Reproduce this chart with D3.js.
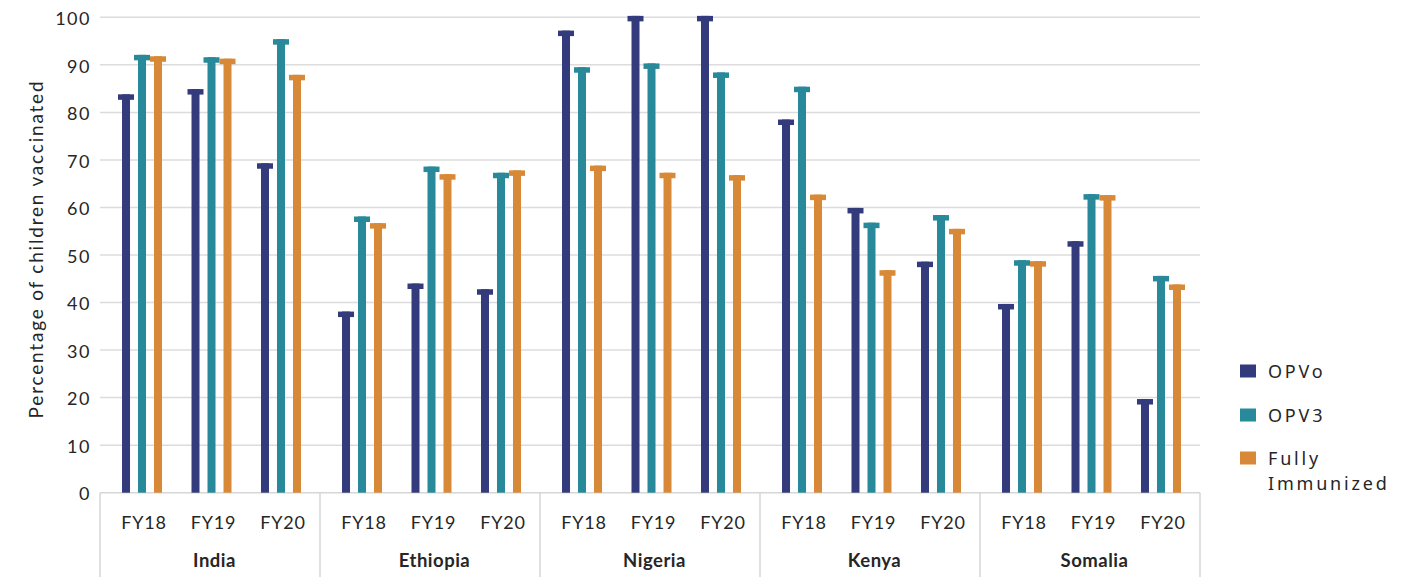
<!DOCTYPE html>
<html>
<head>
<meta charset="utf-8">
<script src="https://cdn.jsdelivr.net/npm/d3@7/dist/d3.min.js"></script>
<style>
  html, body { margin: 0; padding: 0; background: #ffffff; }
  svg { display: block; }
  text { font-family: Lato, "Open Sans", sans-serif; fill: #262626; }
</style>
</head>
<body>
<svg id="chart" width="1427" height="577"></svg>
<script>
const countries = ["India", "Ethiopia", "Nigeria", "Kenya", "Somalia"];
const years = ["FY18", "FY19", "FY20"];
const seriesNames = ["OPVo", "OPV3", "Fully Immunized"];
const seriesColors = ["#333b7c", "#27899a", "#d88937"];
const yTicks = [0, 10, 20, 30, 40, 50, 60, 70, 80, 90, 100];
const yTickLabels = ["0", "10", "20", "30", "40", "50", "60", "70", "80", "90", "100"];

// values per country, ordered FY18, FY19, FY20
const opv0 = {
  India:    [83.8, 84.9, 69.3],
  Ethiopia: [38.1, 44.0, 42.8],
  Nigeria:  [97.2, 100.3, 100.3],
  Kenya:    [78.5, 59.9, 48.6],
  Somalia:  [39.7, 52.9, 19.7]
};
const opv3 = {
  India:    [92.1, 91.6, 95.4],
  Ethiopia: [58.1, 68.6, 67.3],
  Nigeria:  [89.5, 90.3, 88.4],
  Kenya:    [85.4, 56.8, 58.4],
  Somalia:  [48.9, 62.8, 45.6]
};
const fullyImmunized = {
  India:    [91.8, 91.3, 87.9],
  Ethiopia: [56.7, 67.0, 67.8],
  Nigeria:  [68.8, 67.3, 66.8],
  Kenya:    [62.7, 46.8, 55.5],
  Somalia:  [48.7, 62.6, 43.8]
};
const seriesData = [opv0, opv3, fullyImmunized];

const svg = d3.select("#chart");
const plotLeft = 100, plotRight = 1200, plotTop = 17.3, plotBottom = 492.7;

const y = d3.scaleLinear().domain([0, 100]).range([plotBottom, plotTop]);
const xCountry = d3.scaleBand().domain(countries).range([plotLeft, plotRight]).padding(0);
const xYear = d3.scalePoint().domain(years).range([1.5, xCountry.bandwidth() + 1.5]).padding(0.583);
const xSeries = d3.scaleBand().domain(seriesNames).range([-24, 24]).padding(0);

// gridlines
const grid = svg.append("g");
grid.selectAll("line").data(yTicks.filter(d => d > 0)).join("line")
  .attr("x1", plotLeft).attr("x2", plotRight)
  .attr("y1", d => y(d)).attr("y2", d => y(d))
  .attr("stroke", "#dcdcdc").attr("stroke-width", 1.5);

// y axis labels
const yAxis = d3.axisLeft(y).tickValues(yTicks).tickSize(0).tickPadding(8)
  .tickFormat((d, i) => yTickLabels[i]);
const gy = svg.append("g").attr("transform", `translate(${plotLeft - 1},0)`).call(yAxis);
gy.select(".domain").remove();
gy.selectAll("text").style("font-size", "18px").style("font-family", "Lato, sans-serif")
  .attr("fill", "#262626").attr("letter-spacing", "1.5px").attr("dy", "0.4em");

// y title
svg.append("text")
  .attr("transform", `translate(43, ${(plotTop + plotBottom) / 2 - 6}) rotate(-90)`)
  .attr("text-anchor", "middle")
  .style("font-size", "19px")
  .attr("letter-spacing", "1.8px")
  .text("Percentage of children vaccinated");

// category axis box
const axisG = svg.append("g");
axisG.append("line").attr("x1", plotLeft).attr("x2", plotRight).attr("y1", plotBottom).attr("y2", plotBottom)
  .attr("stroke", "#d6d6d6").attr("stroke-width", 1.5);
const seps = countries.map(c => xCountry(c)).concat([plotRight]);
axisG.selectAll("line.sep").data(seps).join("line").attr("class", "sep")
  .attr("x1", d => d).attr("x2", d => d).attr("y1", plotBottom).attr("y2", 577)
  .attr("stroke", "#d6d6d6").attr("stroke-width", 1.5);

// bars
const barW = 8, capW = 16, capH = 5.5;
const barsG = svg.append("g");
countries.forEach(c => {
  years.forEach((yr, yi) => {
    seriesNames.forEach((s, si) => {
      const v = seriesData[si][c][yi];
      const cx = xCountry(c) + xYear(yr) + xSeries(s) + xSeries.bandwidth() / 2;
      const color = seriesColors[si];
      barsG.append("rect")
        .attr("x", cx - barW / 2).attr("width", barW)
        .attr("y", y(v)).attr("height", y(0) - y(v))
        .attr("fill", color);
      barsG.append("rect")
        .attr("x", cx - capW / 2).attr("width", capW)
        .attr("y", y(v)).attr("height", capH)
        .attr("fill", color);
    });
    // year label
    svg.append("text")
      .attr("x", xCountry(c) + xYear(yr) + 2)
      .attr("y", 522)
      .attr("text-anchor", "middle")
      .attr("dominant-baseline", "central")
      .style("font-size", "18px")
      .attr("letter-spacing", "0.8px")
      .text(yr);
  });
  svg.append("text")
    .attr("x", xCountry(c) + xYear("FY19") + 3)
    .attr("y", 560)
    .attr("text-anchor", "middle")
    .attr("dominant-baseline", "central")
    .style("font-size", "18.5px")
    .style("font-weight", "bold")
    .attr("letter-spacing", "0.5px")
    .text(c);
});

// legend
const legendRows = [
  { lines: ["OPVo"], y: 371 },
  { lines: ["OPV3"], y: 415 },
  { lines: ["Fully", "Immunized"], y: 458 }
];
const lg = svg.append("g");
legendRows.forEach((r, i) => {
  lg.append("rect").attr("x", 1240).attr("y", r.y - 6.5).attr("width", 16).attr("height", 13)
    .attr("fill", seriesColors[i]);
  r.lines.forEach((t, li) => {
    lg.append("text").attr("x", 1268).attr("y", r.y + li * 25)
      .attr("dominant-baseline", "central")
      .style("font-family", "'Noto Sans', sans-serif")
      .style("font-size", "18px")
      .attr("letter-spacing", "2.8px")
      .text(t);
  });
});
</script>
</body>
</html>
